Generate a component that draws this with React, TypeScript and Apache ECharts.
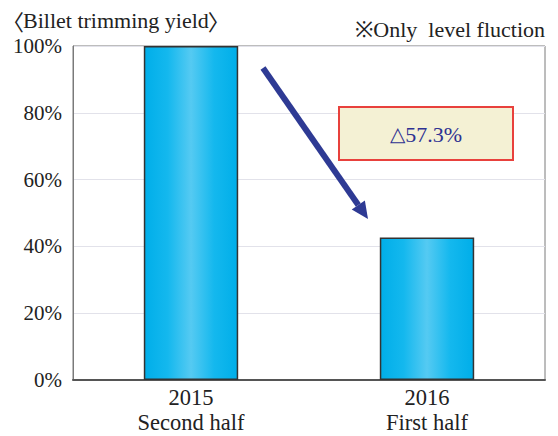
import React, { useEffect, useRef } from "react";
import * as echarts from "echarts";

const categories = ["2015\nSecond half", "2016\nFirst half"];
const yieldValues = [100, 42.7];
const yTicks = [0, 20, 40, 60, 80, 100];
const titleOpen = "〈";
const titleText = "Billet trimming yield";
const titleClose = "〉";
const noteText = "※Only  level fluction";
const changeSymbol = "△";
const changeText = "57.3%";

const SERIF = "Liberation Serif, DejaVu Serif, serif";
const CJK = "Noto Sans CJK JP, sans-serif";
const SYM = "DejaVu Sans, sans-serif";

function measure(text: string, size: number, family: string) {
  const c = document.createElement("canvas").getContext("2d");
  if (!c) return text.length * size * 0.45;
  c.font = `${size}px ${family}`;
  return c.measureText(text).width;
}

export default function App() {
  const ref = useRef<HTMLDivElement>(null);
  useEffect(() => {
    document.body.style.margin = "0";
    if (!ref.current) return;
    const chart = echarts.init(ref.current, undefined, { renderer: "svg" });
    const barGrad = new echarts.graphic.LinearGradient(0, 0, 1, 0, [
      { offset: 0, color: "#00aee9" },
      { offset: 0.25, color: "#14b8ee" },
      { offset: 0.5, color: "#55caf2" },
      { offset: 0.75, color: "#14b8ee" },
      { offset: 1, color: "#00aee9" },
    ]);
    // arrow geometry (annotation, pixel space)
    const sx = 263, sy = 68, tx = 368, ty = 219;
    const dx = tx - sx, dy = ty - sy;
    const len = Math.sqrt(dx * dx + dy * dy);
    const ux = dx / len, uy = dy / len;
    const hl = 17, hw = 8;
    const bx = tx - ux * hl, by = ty - uy * hl;
    const px = -uy, py = ux;

    const TS = 22;
    const titleX = 23;
    const titleW = measure(titleText, TS, SERIF);
    const symW = measure(changeSymbol, 20, SYM);
    const numW = measure(changeText, 22, SERIF);
    const changeLeft = 426 - (symW + numW) / 2;

    const txt = (
      x: number,
      y: number,
      text: string,
      size: number,
      family: string,
      fill: string,
      align: "left" | "right" | "center" = "left"
    ) => ({
      type: "text",
      x,
      y,
      z: 20,
      style: {
        text,
        fontFamily: family,
        fontSize: size,
        fill,
        align,
        verticalAlign: "middle",
      },
    });

    chart.setOption({
      animation: false,
      grid: {
        left: 73,
        right: 13,
        top: 46,
        bottom: 56,
        show: true,
        borderColor: "#7a7a7a",
        borderWidth: 1,
        backgroundColor: "transparent",
      },
      xAxis: {
        type: "category",
        data: categories,
        axisLine: { lineStyle: { color: "#555", width: 2 } },
        axisTick: { show: false },
        axisLabel: {
          color: "#222",
          fontFamily: SERIF,
          fontSize: 22.5,
          lineHeight: 25,
          margin: 5,
        },
      },
      yAxis: {
        type: "value",
        min: 0,
        max: 100,
        interval: 20,
        axisLine: { show: true, lineStyle: { color: "#7a7a7a", width: 1 } },
        axisTick: { show: false },
        splitLine: { lineStyle: { color: "#e2e2ea", width: 1 } },
        axisLabel: {
          color: "#222",
          fontFamily: SERIF,
          fontSize: 21,
          margin: 11,
          formatter: (v: number) => (yTicks.includes(v) ? v + "%" : ""),
        },
      },
      series: [
        {
          type: "bar",
          data: yieldValues,
          barWidth: "40%",
          itemStyle: {
            color: barGrad,
            borderColor: "#333",
            borderWidth: 1.5,
          },
        },
      ],
      graphic: [
        {
          type: "line",
          shape: { x1: sx, y1: sy, x2: bx, y2: by },
          style: { stroke: "#2e3a94", lineWidth: 6, lineCap: "butt" },
          z: 5,
        },
        {
          type: "polygon",
          shape: {
            points: [
              [tx, ty],
              [bx + px * hw, by + py * hw],
              [bx - px * hw, by - py * hw],
            ],
          },
          style: { fill: "#2e3a94" },
          z: 5,
        },
        {
          type: "rect",
          shape: { x: 339, y: 107, width: 174, height: 53 },
          style: { fill: "#f4f1d4", stroke: "#e8413c", lineWidth: 2 },
          z: 5,
        },
        txt(titleX + 1, 20, titleOpen, TS, CJK, "#222", "right"),
        txt(titleX, 20, titleText, TS, SERIF, "#222", "left"),
        txt(titleX + titleW - 1, 20, titleClose, TS, CJK, "#222", "left"),
        txt(545, 29, noteText, 22, SERIF, "#222", "right"),
        txt(changeLeft, 134, changeSymbol, 20, SYM, "#2e3192", "left"),
        txt(changeLeft + symW, 134, changeText, 22, SERIF, "#2e3192", "left"),
      ],
    });
    return () => chart.dispose();
  }, []);
  return <div ref={ref} style={{ width: 558, height: 436 }} />;
}
